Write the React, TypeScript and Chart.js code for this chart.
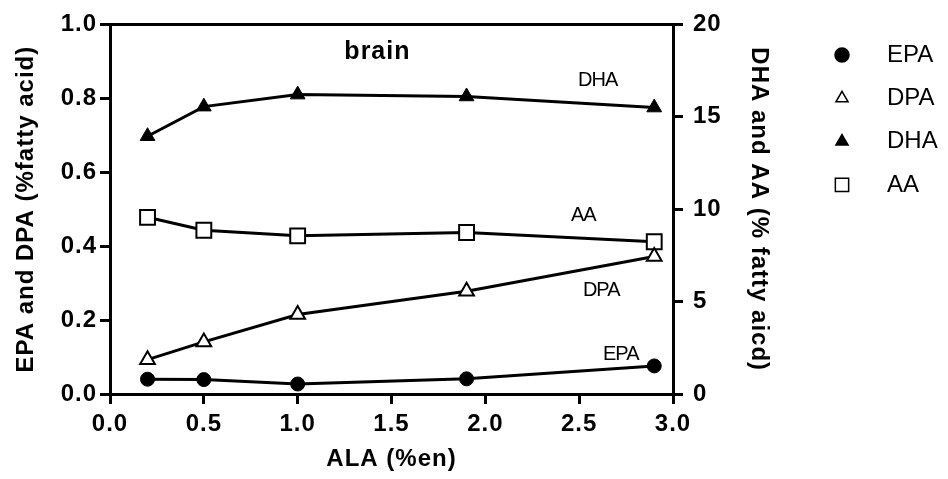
import React, { useEffect, useRef } from "react";
import { Chart, registerables } from "chart.js";
import { drawPoint } from "chart.js/helpers";

Chart.register(...registerables);

// ---- data ----
const alaValues = [0.2, 0.5, 1.0, 1.9, 2.9];
const epaValues = [0.04, 0.039, 0.027, 0.041, 0.076];
const dpaValues = [0.093, 0.141, 0.215, 0.278, 0.372];
const dhaValues = [13.95, 15.55, 16.2, 16.1, 15.5];
const aaValues = [9.56, 8.86, 8.56, 8.74, 8.24];

const seriesNames = ["EPA", "DPA", "DHA", "AA"];
const panelTitle = "brain";
const xTitle = "ALA (%en)";
const yLeftTitle = "EPA and DPA (%fatty acid)";
const yRightTitle = "DHA and AA (% fatty aicd)";

// inline series labels, placed in data units (x, right axis)
const inlineLabelText = ["DHA", "AA", "DPA", "EPA"];
const inlineLabelX = [2.494, 2.456, 2.52, 2.627];
const inlineLabelY = [16.94, 9.68, 5.61, 2.13];
const panelTitleX = 1.425;
const panelTitleY = 18.5;

const FONT = "'Liberation Sans', Arial, Helvetica, sans-serif";

const toPts = (ys: number[]) => ys.map((y, i) => ({ x: alaValues[i], y }));

const markerStyles = [
  { pointStyle: "circle", radius: 7, bg: "#000", bw: 1, legendRadius: 7 },
  { pointStyle: "triangle", radius: 8.5, bg: "#fff", bw: 2, legendRadius: 7 },
  { pointStyle: "triangle", radius: 8.5, bg: "#000", bw: 1, legendRadius: 7 },
  { pointStyle: "rect", radius: 10.5, bg: "#fff", bw: 2, legendRadius: 9.4 },
];

const spacingPlugin = {
  id: "letterSpacing",
  beforeLayout(chart: any) {
    (chart.ctx as any).letterSpacing = "1px";
  },
  beforeDraw(chart: any) {
    (chart.ctx as any).letterSpacing = "1px";
  },
};

const topBorderPlugin = {
  id: "topBorder",
  afterDraw(chart: any) {
    const { ctx, chartArea } = chart;
    ctx.save();
    ctx.strokeStyle = "#000";
    ctx.lineWidth = 3;
    ctx.beginPath();
    ctx.moveTo(chartArea.left - 1.5, chartArea.top);
    ctx.lineTo(chartArea.right + 1.5, chartArea.top);
    ctx.stroke();
    ctx.restore();
  },
};

const labelsPlugin = {
  id: "inlineLabels",
  afterDatasetsDraw(chart: any) {
    const { ctx, scales } = chart;
    ctx.save();
    ctx.fillStyle = "#000";
    ctx.letterSpacing = "1px";
    ctx.font = `bold 25px ${FONT}`;
    ctx.textAlign = "center";
    ctx.textBaseline = "middle";
    ctx.fillText(panelTitle, scales.x.getPixelForValue(panelTitleX), scales.y2.getPixelForValue(panelTitleY));
    ctx.font = `20px ${FONT}`;
    ctx.letterSpacing = "-1px";
    ctx.textAlign = "left";
    inlineLabelText.forEach((t, i) => {
      ctx.fillText(t, scales.x.getPixelForValue(inlineLabelX[i]), scales.y2.getPixelForValue(inlineLabelY[i]));
    });
    ctx.restore();
  },
};

const legendPlugin = {
  id: "sideLegend",
  afterDraw(chart: any) {
    const { ctx, width } = chart;
    const markerX = width - 106;
    const textX = width - 61;
    const startY = 55;
    const step = 43.3;
    ctx.save();
    ctx.letterSpacing = "0px";
    chart.data.datasets.forEach((ds: any, i: number) => {
      const y = startY + i * step;
      const m = markerStyles[i];
      ctx.fillStyle = m.bg;
      ctx.strokeStyle = "#000";
      ctx.lineWidth = 1.5;
      drawPoint(ctx, { pointStyle: m.pointStyle, radius: m.legendRadius, rotation: 0, borderWidth: 1.5 } as any, markerX, y);
      ctx.fillStyle = "#000";
      ctx.font = `24px ${FONT}`;
      ctx.textAlign = "left";
      ctx.textBaseline = "middle";
      ctx.fillText(ds.label, textX, y);
    });
    ctx.restore();
  },
};

export default function App() {
  const ref = useRef<HTMLCanvasElement | null>(null);

  useEffect(() => {
    if (!ref.current) return;
    const seriesData = [epaValues, dpaValues, dhaValues, aaValues];
    const axisIds = ["y", "y", "y2", "y2"];
    const datasets = seriesNames.map((name, i) => ({
      label: name,
      data: toPts(seriesData[i]),
      yAxisID: axisIds[i],
      borderColor: "#000",
      borderWidth: 3,
      backgroundColor: markerStyles[i].bg,
      pointStyle: markerStyles[i].pointStyle as any,
      pointRadius: markerStyles[i].radius,
      pointBackgroundColor: markerStyles[i].bg,
      pointBorderColor: "#000",
      pointBorderWidth: markerStyles[i].bw,
      tension: 0,
      fill: false,
      showLine: true,
    }));

    const tickFont = { family: FONT, size: 24, weight: "bold" as const };
    const titleFont = { family: FONT, size: 24, weight: "bold" as const };
    const grid = {
      display: true,
      drawOnChartArea: false,
      drawTicks: true,
      tickLength: 10,
      lineWidth: 3,
      color: "#000",
    };
    const border = { display: true, width: 3, color: "#000" };

    const chart = new Chart(ref.current, {
      type: "scatter",
      data: { datasets },
      options: {
        animation: false,
        responsive: true,
        maintainAspectRatio: false,
        layout: { padding: { left: 0, top: 18, right: 168, bottom: 0 } },
        plugins: {
          legend: { display: false },
          tooltip: { enabled: false },
        },
        scales: {
          x: {
            type: "linear",
            position: "bottom",
            min: 0,
            max: 3,
            ticks: {
              stepSize: 0.5,
              color: "#000",
              font: tickFont,
              padding: 6,
              callback: (v: any) => Number(v).toFixed(1),
            },
            grid,
            border,
            title: { display: true, text: xTitle, color: "#000", font: titleFont, padding: { top: 0, bottom: 5 } },
            afterFit: (s: any) => {
              s.height = 85;
            },
          },
          y: {
            type: "linear",
            position: "left",
            min: 0,
            max: 1,
            ticks: {
              stepSize: 0.2,
              color: "#000",
              font: tickFont,
              padding: 3,
              callback: (v: any) => Number(v).toFixed(1),
            },
            grid,
            border,
            title: { display: true, text: yLeftTitle, color: "#000", font: titleFont, padding: { top: 12, bottom: 0 } },
            afterFit: (s: any) => {
              s.width = 110;
            },
          },
          y2: {
            type: "linear",
            position: "right",
            min: 0,
            max: 20,
            ticks: {
              stepSize: 5,
              color: "#000",
              font: tickFont,
              padding: 10,
              callback: (v: any) => String(v),
            },
            grid,
            border,
            title: { display: true, text: yRightTitle, color: "#000", font: titleFont, padding: { top: 7, bottom: 0 } },
            afterFit: (s: any) => {
              s.width = 107;
            },
          },
        },
      },
      plugins: [spacingPlugin, topBorderPlugin, labelsPlugin, legendPlugin],
    });
    return () => chart.destroy();
  }, []);

  return (
    <div style={{ position: "fixed", left: 0, top: 0, width: 948, height: 479, background: "#fff" }}>
      <canvas ref={ref} />
    </div>
  );
}
